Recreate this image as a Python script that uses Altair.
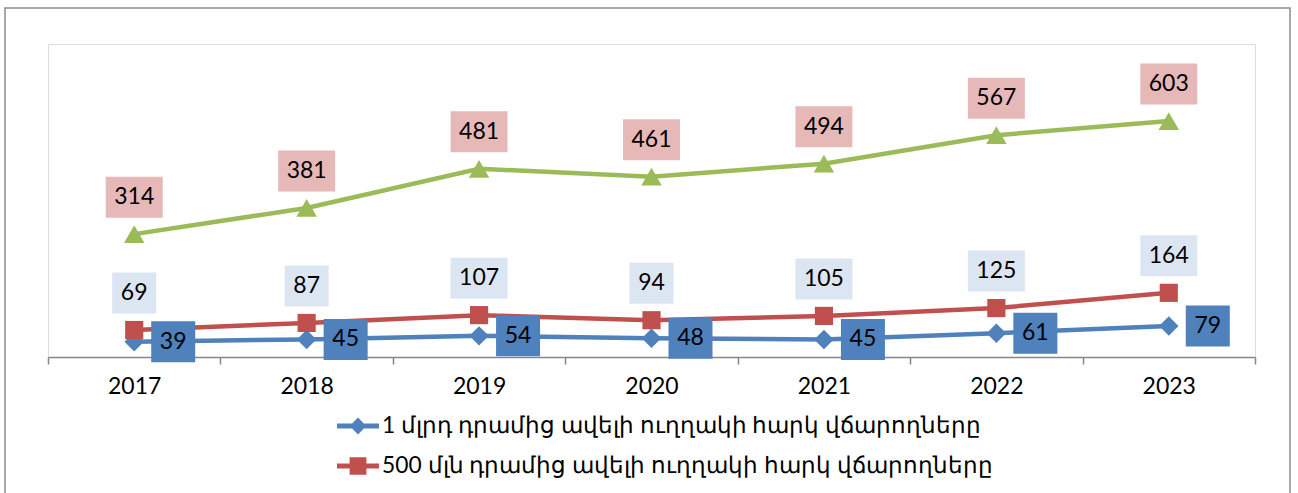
import altair as alt
import pandas as pd

years = [2017, 2018, 2019, 2020, 2021, 2022, 2023]
above_1bn = [39, 45, 54, 48, 45, 61, 79]
above_500m = [69, 87, 107, 94, 105, 125, 164]
third_series = [314, 381, 481, 461, 494, 567, 603]

s1 = "1 մլրդ դրամից ավելի ուղղակի հարկ վճարողները"
s2 = "500 մլն դրամից ավելի ուղղակի հարկ վճարողները"
s3 = "series3"

BLUE, RED, GREEN = "#4F81BD", "#C0504D", "#9BBB59"
FONT = "Lato"


def frame(vals, name):
    return pd.DataFrame({
        "year": years,
        "value": vals,
        "series": name,
        "nd": [str(len(str(v))) for v in vals],
    })


d1, d2, d3 = frame(above_1bn, s1), frame(above_500m, s2), frame(third_series, s3)
d12 = pd.concat([d1, d2])

x = alt.X("year:O", title=None,
          scale=alt.Scale(type="band", paddingInner=0, paddingOuter=0),
          axis=alt.Axis(labelAngle=0, tickBand="extent", domainColor="#868686",
                        tickColor="#868686", domainWidth=1.5, tickWidth=1.5,
                        tickSize=7, labelPadding=11, labelFont=FONT,
                        labelFontSize=23, labelColor="black"))
y = alt.Y("value:Q", title=None, scale=alt.Scale(domain=[0, 800], nice=False), axis=None)

diamond_leg = "M-1,-0.12H-0.28L0,-0.4L0.28,-0.12H1V0.12H0.28L0,0.4L-0.28,0.12H-1Z"
square_leg = "M-1,-0.12H-0.4V-0.42H0.4V-0.12H1V0.12H0.4V0.42H-0.4V0.12H-1Z"

legend = alt.Legend(
    orient="none", legendX=289, legendY=361, title=None,
    symbolSize=1764, labelFont=FONT, labelFontSize=22.8, labelColor="black",
    labelLimit=1000, labelOffset=3, rowPadding=7, padding=0,
    symbolStrokeWidth=0, symbolOpacity=1,
    symbolType=alt.ExprRef(f"datum.index === 0 ? '{diamond_leg}' : '{square_leg}'"),
)
color_scale = alt.Scale(domain=[s1, s2], range=[BLUE, RED])

box_scale = alt.Scale(domain=["2", "3"],
                      range=["M-0.772,-0.719H0.772V0.719H-0.772Z",
                             "M-1,-0.719H1V0.719H-1Z"])

border = alt.Chart(pd.DataFrame({"a": [0]})).mark_rect(
    filled=False, stroke="#8c8c8c", strokeWidth=1.5
).encode(x=alt.value(-43), x2=alt.value(1242), y=alt.value(-36), y2=alt.value(470))

line1 = alt.Chart(d1).mark_line(strokeWidth=4.5, color=BLUE).encode(x=x, y=y)
line2 = alt.Chart(d2).mark_line(strokeWidth=4.5, color=RED).encode(x=x, y=y)
line3 = alt.Chart(d3).mark_line(strokeWidth=4.5, color=GREEN).encode(x=x, y=y)

legend_layer = alt.Chart(d12).mark_point(filled=True, size=1).encode(
    x=x, y=y, color=alt.Color("series:N", scale=color_scale, legend=legend))

pts1 = alt.Chart(d1).mark_point(filled=True, opacity=1, shape="diamond", size=380, color=BLUE).encode(x=x, y=y)
pts2 = alt.Chart(d2).mark_point(filled=True, opacity=1, shape="square", size=330, color=RED).encode(x=x, y=y)
pts3 = alt.Chart(d3).mark_point(filled=True, opacity=1, shape="triangle-up", size=420, color=GREEN).encode(x=x, y=y)


def boxes(d, color, dx=0, dy=0):
    return alt.Chart(d).mark_point(filled=True, opacity=1, size=3249, color=color,
                                   strokeWidth=0, xOffset=dx, yOffset=dy).encode(
        x=x, y=y, shape=alt.Shape("nd:N", scale=box_scale, legend=None))


def texts(d, dx=0, dy=0):
    return alt.Chart(d).mark_text(dx=dx, dy=dy, font=FONT, fontSize=23, color="black",
                                  baseline="middle").encode(x=x, y=y, text="value:Q")


chart = alt.layer(
    border, line1, line2, line3, legend_layer, pts1, pts2, pts3,
    boxes(d3, "#E6B9B8", dy=-37), boxes(d2, "#DCE6F2", dy=-37), boxes(d1, BLUE, dx=39),
    texts(d3, dy=-37), texts(d2, dy=-37), texts(d1, dx=39),
).properties(
    width=1207, height=313,
    autosize=alt.AutoSizeParams(type="none"),
    padding={"left": 48, "top": 44, "right": 43, "bottom": 136},
).configure_view(strokeWidth=0).configure(background="white")

chart.save("out.html", embed_options={"renderer": "svg", "actions": False})
